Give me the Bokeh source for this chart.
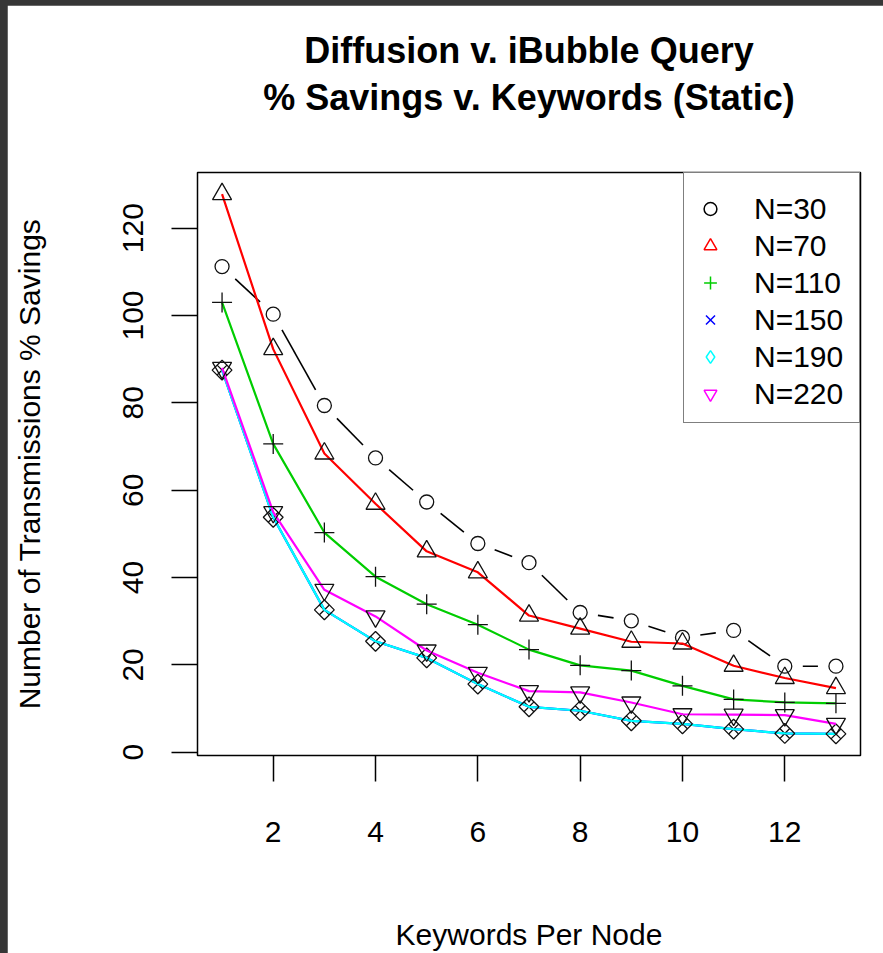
import math
from bokeh.plotting import figure
from bokeh.models import Title, Range1d, FixedTicker, Legend, LegendItem, ColumnDataSource
from bokeh.layouts import column
from bokeh.embed import file_html
from bokeh.resources import INLINE

# ---------------- data ----------------
keywords = list(range(1, 14))
n30 = [111.2, 100.3, 79.4, 67.4, 57.3, 47.8, 43.4, 32.0, 30.1, 26.3, 27.9, 19.7, 19.7]
n70 = [127.8, 92.3, 68.4, 56.9, 46.0, 41.2, 31.3, 28.3, 25.3, 24.9, 19.8, 17.0, 14.7]
n110 = [103.0, 70.6, 50.3, 40.2, 33.9, 29.2, 23.5, 19.9, 18.7, 15.2, 12.1, 11.4, 11.2]
n150 = [87.5, 53.8, 32.6, 25.4, 21.6, 15.6, 10.4, 9.5, 7.2, 6.5, 5.3, 4.3, 4.2]
n190 = [87.5, 53.8, 32.6, 25.4, 21.6, 15.6, 10.4, 9.5, 7.2, 6.5, 5.3, 4.3, 4.2]
n220 = [88.0, 55.0, 37.2, 31.1, 23.3, 18.2, 14.0, 13.7, 11.4, 8.7, 8.6, 8.5, 6.5]
series_labels = ["N=30", "N=70", "N=110", "N=150", "N=190", "N=220"]
x_ticks = [2, 4, 6, 8, 10, 12]
y_ticks = [0, 20, 40, 60, 80, 100, 120]

title_line1 = "Diffusion v. iBubble Query"
title_line2 = "% Savings v. Keywords (Static)"
x_label = "Keywords Per Node"
y_label = "Number of Transmissions % Savings"

# ---------------- styling ----------------
FONT = "Liberation Sans"
colors = ["black", "#FF0000", "#00CD00", "#0000FF", "#00FFFF", "#FF00FF"]
markers = ["circle", "triangle", "cross", "x", "square", "inverted_triangle"]
legend_markers = ["circle", "triangle", "cross", "x", "diamond", "inverted_triangle"]
angles = [0, 0, 0, 0, math.pi / 4, 0]
plot_sizes = [14, 19, 20, 14, 14, 19]

FIG_W, FIG_H = 876, 948
B_LEFT, B_RIGHT, B_TOP, B_BOTTOM = 190, 23, 167, 196

all_y = n30 + n70 + n110 + n150 + n190 + n220
ymin, ymax = min(all_y), max(all_y)
yr = ymax - ymin
xmin, xmax = min(keywords), max(keywords)
xr = xmax - xmin

p = figure(width=FIG_W, height=FIG_H, title=None,
           x_range=Range1d(xmin - 0.04 * xr, xmax + 0.04 * xr),
           y_range=Range1d(ymin - 0.04 * yr, ymax + 0.04 * yr),
           output_backend="svg", toolbar_location=None,
           min_border_left=B_LEFT, min_border_right=B_RIGHT,
           min_border_top=B_TOP, min_border_bottom=B_BOTTOM)
p.margin = (5, 0, 0, 7)
p.grid.visible = False
p.background_fill_color = "white"
p.border_fill_color = "white"
p.outline_line_color = "black"
p.outline_line_width = 1.5

# axes
for ax in (p.xaxis[0], p.yaxis[0]):
    ax.axis_line_color = None
    ax.major_tick_line_color = "black"
    ax.major_tick_line_width = 1.5
    ax.major_tick_out = 26
    ax.major_tick_in = 0
    ax.minor_tick_line_color = None
    ax.major_label_text_font = FONT
    ax.major_label_text_font_size = "30px"
    ax.major_label_text_color = "black"
    ax.axis_label_text_font = FONT
    ax.axis_label_text_font_size = "30px"
    ax.axis_label_text_font_style = "normal"
    ax.axis_label_text_color = "black"

p.xaxis[0].ticker = FixedTicker(ticks=x_ticks)
p.yaxis[0].ticker = FixedTicker(ticks=y_ticks)
p.xaxis[0].axis_label = x_label
p.yaxis[0].axis_label = y_label
p.xaxis[0].major_label_standoff = 40
p.xaxis[0].axis_label_standoff = 73
p.yaxis[0].major_label_orientation = "vertical"
p.yaxis[0].major_label_standoff = 28
p.yaxis[0].axis_label_standoff = 75

# titles: spacer next to the frame, then line 2, then line 1 (each centred)
def title_box(txt, standoff):
    return Title(text=txt, align="center", text_font=FONT, text_font_size="36px",
                 text_font_style="bold", text_color="black", standoff=standoff)

p.add_layout(title_box(" ", 8), "above")
p.add_layout(title_box(title_line2, 8), "above")
p.add_layout(title_box(title_line1, 0), "above")

# pixel scale for type="b" gaps
fw = FIG_W - B_LEFT - B_RIGHT
fh = FIG_H - B_TOP - B_BOTTOM
ppx = fw / (p.x_range.end - p.x_range.start)
ppy = fh / (p.y_range.end - p.y_range.start)
GAP = 18.0

def gapped_segments(xs, ys):
    x0s, y0s, x1s, y1s = [], [], [], []
    for i in range(len(xs) - 1):
        dxp = (xs[i + 1] - xs[i]) * ppx
        dyp = (ys[i + 1] - ys[i]) * ppy
        L = math.hypot(dxp, dyp)
        if L <= 2 * GAP:
            continue
        f = GAP / L
        x0s.append(xs[i] + f * (xs[i + 1] - xs[i]))
        y0s.append(ys[i] + f * (ys[i + 1] - ys[i]))
        x1s.append(xs[i + 1] - f * (xs[i + 1] - xs[i]))
        y1s.append(ys[i + 1] - f * (ys[i + 1] - ys[i]))
    return x0s, y0s, x1s, y1s

series = [n30, n70, n110, n150, n190, n220]
legend_items = []
for k, ys in enumerate(series):
    src = ColumnDataSource(dict(x=keywords, y=ys))
    if k == 0:
        x0s, y0s, x1s, y1s = gapped_segments(keywords, ys)
        p.segment(x0=x0s, y0=y0s, x1=x1s, y1=y1s, line_color="black", line_width=1.6)
    else:
        p.line("x", "y", source=src, line_color=colors[k], line_width=2.2)
    p.scatter("x", "y", source=src, marker=markers[k], size=plot_sizes[k], angle=angles[k],
              fill_color=None, line_color="#111111", line_width=1.3)
    # legend-only renderer with coloured symbol
    lr = p.scatter("x", "y", source=src, marker=legend_markers[k], size=12,
                   fill_color=None, line_color=colors[k], line_width=1.5, visible=False)
    legend_items.append(LegendItem(label=series_labels[k], renderers=[lr]))

legend = Legend(items=legend_items, location="top_right", margin=0, padding=10, spacing=0,
                glyph_width=32, glyph_height=37, label_height=37, label_standoff=28,
                label_width=95,
                title=" ", title_text_font_size="1px", title_standoff=6,
                label_text_font=FONT, label_text_font_size="30px", label_text_color="black",
                border_line_color="black", border_line_width=1.5,
                background_fill_color="white", background_fill_alpha=1.0,
                click_policy="none")
p.add_layout(legend, "center")

layout = column(p, styles={"background-color": "#363636"})

open("out.html", "w").write(file_html(layout, INLINE))
